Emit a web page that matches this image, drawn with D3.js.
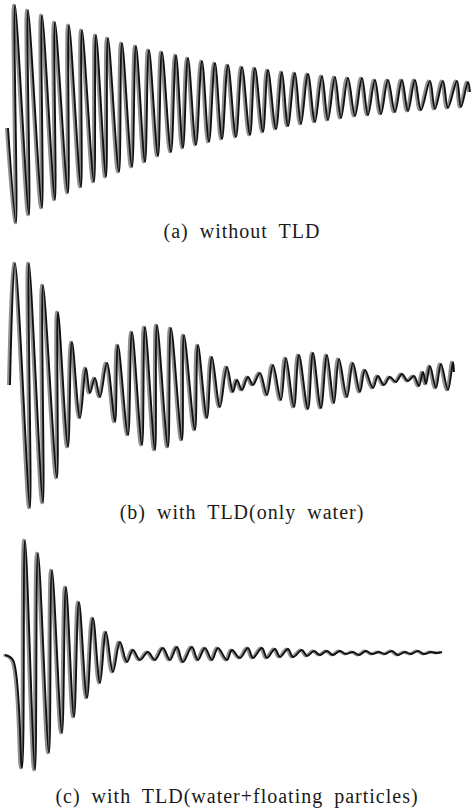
<!DOCTYPE html>
<html>
<head>
<meta charset="utf-8">
<script src="https://cdn.jsdelivr.net/npm/d3@7"></script>
<style>
body{margin:0;background:#fff;}
.caption{font-family:"Liberation Serif","Times New Roman",serif;font-size:20px;fill:#1a1a1a;letter-spacing:1px;word-spacing:5px;}
.ghost{fill:none;stroke:#8f8f8f;stroke-width:2.8;stroke-linejoin:round;}
.trace{fill:none;stroke:#111;stroke-width:1.9;stroke-linejoin:round;}
</style>
</head>
<body>
<script>
//turning points of the three free vibration records (time in 0.1 s, displacement)
var timeA = [8, 16,15, 29,28, 42,42, 55,55, 68,69, 81,82, 94,96, 106,108, 119,122, 132,136,
    145,149, 158,162, 171,176, 183,188, 196,202, 209,215, 222,228, 236,242, 250,255, 263,268,
    276,282, 288,295, 301,308, 315,322, 328,335, 341,348, 355,362, 368,375, 381,388, 395,402,
    408,415, 421,430, 435,443, 448,457, 461,468, 470];
var dispA = [-14, -109,109, -101,104, -94,99, -86,92, -79,89, -73,84, -68,79, -63,76, -58,71, -53,68,
    -48,64, -42,62, -38,59, -34,56, -31,53, -28,51, -25,49, -23,47, -21,46, -18,44,
    -15,42, -12,41, -10,40, -8,38, -6,37, -4,36, -2,36, -1,34, 0,34, 2,34,
    3,34, 4,33, 5,33, 6,33, 7,32, 22];

var timeB = [10, 15, 30,29, 43,43, 57,58, 68,72, 80,86, 90,95, 100,107, 115,118, 128,132,
    142,145, 155,157, 168,171, 182,184, 195,198, 207,212, 220,227, 233,237, 242,248, 253,260,
    267,273, 281,286, 294,299, 308,313, 321,327, 334,339, 347,353, 360,365, 373,378, 384,390,
    396,402, 408,414, 419,423, 426,430, 436,441, 448,453, 454];
var dispB = [0, 122, -123,122, -118,100, -93,73, -62,43, -33,17, -8,7, -12,22, -37,40, -50,53,
    -60,58, -65,60, -62,57, -55,50, -45,40, -33,28, -22,18, -7,5, -5,8, 0,12,
    -10,20, -15,27, -22,30, -24,32, -23,30, -18,26, -12,22, -7,15, -3,9, 0,8,
    3,11, 4,9, -1,13, 1,19, -3,21, -5,23, 13];

var timeC = [5, 13, 22,25, 35,38, 49,52, 62,66, 74,79, 87,93, 100,106, 113,120, 127,133,
    140,148, 155,163, 170,177, 183,192, 198,205, 212,218, 227,232, 240,248, 253,262, 267,275,
    280,288, 293,302, 307,314, 320,327, 333,340, 346,353, 359,366, 372,379, 385,392, 398,405,
    411,418, 424,431, 437,442];
var dispC = [0, -5, -113,115, -115,102, -98,85, -78,68, -62,53, -43,37, -28,23, -17,13, -7,5,
    -5,3, -5,7, -5,8, -7,8, -5,7, -5,7, -5,5, -3,7, -3,7, -3,6,
    -2,6, -2,5, -1,4, 0,4, 0,4, 1,3, 0,4, 1,3, 1,4, 0,3,
    1,4, 1,3, 2,3];

var captions = ["(a) without TLD", "(b) with TLD(only water)", "(c) with TLD(water+floating particles)"];

(function(){

window.onload = setChart();

function setChart(){
    //frame dimensions
    var width = 473,
        height = 809;

    var svg = d3.select("body")
        .append("svg")
        .attr("width", width)
        .attr("height", height);

    //same scales for every record
    var xScale = d3.scaleLinear()
        .domain([0, 473])
        .range([0, width]);

    var yScale = d3.scaleLinear()
        .domain([-125, 125])
        .range([125, -125]);

    var line = d3.line()
        .x(function(d){ return xScale(d[0]); })
        .y(function(d){ return yScale(d[1]); })
        .curve(d3.curveCatmullRom.alpha(0.5));

    //vertical position of each record's zero line and of its caption
    var panels = [
        {t: timeA, v: dispA, cy: 114, capY: 124, capX: 242},
        {t: timeB, v: dispB, cy: 385, capY: 134, capX: 242},
        {t: timeC, v: dispC, cy: 655, capY: 148, capX: 237}
    ];

    panels.forEach(function(p, i){
        var pts = p.t.map(function(t, j){ return [t, p.v[j]]; });

        var g = svg.append("g")
            .attr("transform", "translate(0," + p.cy + ")");

        //grey double of the pen line
        g.append("path")
            .datum(pts)
            .attr("class", "ghost")
            .attr("transform", "translate(-1.6,0)")
            .attr("d", line);

        g.append("path")
            .datum(pts)
            .attr("class", "trace")
            .attr("d", line);

        g.append("text")
            .attr("class", "caption")
            .attr("x", p.capX)
            .attr("y", p.capY)
            .attr("text-anchor", "middle")
            .text(captions[i]);
    });
};

})();
</script>
</body>
</html>
